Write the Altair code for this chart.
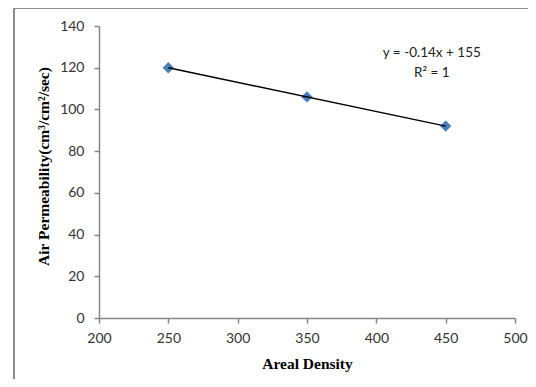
import altair as alt
import pandas as pd

# Data
areal_density = [250, 350, 450]
air_perm = [120, 106, 92]

# Trendline annotation (placed in data coordinates)
eq_lines = ["y = -0.14x + 155", "R\u00b2 = 1"]
eq_x = [440, 440]
eq_y = [127, 117.5]

df = pd.DataFrame({"x": areal_density, "y": air_perm})
ann = pd.DataFrame({"x": eq_x, "y": eq_y, "t": eq_lines})

xscale = alt.Scale(domain=[200, 500], nice=False, zero=False)
yscale = alt.Scale(domain=[0, 140], nice=False)

xaxis = alt.Axis(values=[200, 250, 300, 350, 400, 450, 500], title="Areal Density",
                 titleY=45, titleBaseline="middle", labelPadding=8, labelFlush=False)
yaxis = alt.Axis(values=[0, 20, 40, 60, 80, 100, 120, 140],
                 title="Air Permeability(cm\u00b3/cm\u00b2/sec)",
                 titleX=-56, titleY=140, titleBaseline="middle", labelPadding=10, labelFlush=False)

base = alt.Chart(df)

frame = alt.Chart(df).mark_rect(fill=None, stroke="#8c8c8c", strokeWidth=1.5).encode(
    x=alt.value(-85), x2=alt.value(600), y=alt.value(-18), y2=alt.value(500)
)

points = base.mark_point(shape="diamond", filled=True, color="#4a7ebb", size=130, opacity=1).encode(
    x=alt.X("x:Q", scale=xscale, axis=xaxis),
    y=alt.Y("y:Q", scale=yscale, axis=yaxis),
)

trend = base.transform_regression("x", "y").mark_line(color="black", strokeWidth=1.5).encode(
    x=alt.X("x:Q", scale=xscale),
    y=alt.Y("y:Q", scale=yscale),
)

text = alt.Chart(ann).mark_text(font="Lato", fontSize=13.5, color="#222222", align="center",
                                baseline="middle").encode(
    x=alt.X("x:Q", scale=xscale),
    y=alt.Y("y:Q", scale=yscale),
    text="t:N",
)

chart = alt.layer(frame, points, trend, text).properties(
    width=416, height=292,
    padding={"left": 91, "top": 18, "right": 13, "bottom": 61},
    autosize=alt.AutoSizeParams(type="none"),
    background="white",
).configure_view(stroke=None).configure_axis(
    grid=False,
    domainColor="#868686", domainWidth=1.5,
    tickColor="#868686", tickWidth=1.5, tickSize=5,
    labelFont="Lato", labelFontSize=14, labelColor="#333333",
    titleFont="Liberation Serif", titleFontSize=15.5, titleFontWeight="bold", titleColor="black",
)

chart.save("out.html", embed_options={"renderer": "svg", "actions": False})
